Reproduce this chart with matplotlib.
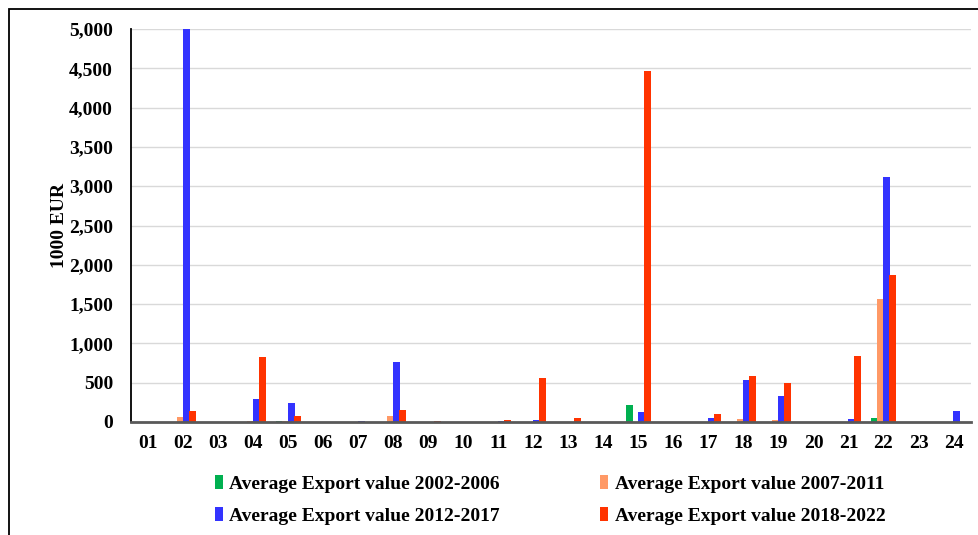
import matplotlib.pyplot as plt
import matplotlib.patches as mpatches
import numpy as np
from matplotlib.ticker import FuncFormatter

plt.rcParams['font.family'] = ['Liberation Serif', 'DejaVu Serif']
plt.rcParams['font.weight'] = 'bold'

codes = ['01', '02', '03', '04', '05', '06', '07', '08', '09', '10', '11', '12',
         '13', '14', '15', '16', '17', '18', '19', '20', '21', '22', '23', '24']

exp_2002_2006 = [0, 0, 5, 0, 8, 0, 0, 0, 0, 5, 0, 0,
                 0, 0, 212, 5, 5, 0, 0, 0, 0, 50, 0, 0]
exp_2007_2011 = [0, 62, 5, 8, 18, 0, 5, 72, 0, 0, 0, 0,
                 5, 0, 0, 5, 0, 42, 20, 0, 5, 1565, 0, 0]
exp_2012_2017 = [0, 5000, 5, 290, 236, 0, 8, 768, 5, 0, 10, 25,
                 0, 0, 121, 0, 54, 529, 333, 5, 42, 3120, 5, 138]
exp_2018_2022 = [0, 134, 0, 827, 72, 0, 0, 154, 18, 0, 28, 554,
                 50, 0, 4470, 0, 108, 580, 494, 5, 836, 1870, 0, 0]

labels = ['Average Export value 2002-2006', 'Average Export value 2007-2011',
          'Average Export value 2012-2017', 'Average Export value 2018-2022']
colors = ['#00B050', '#FF9966', '#3333FF', '#FF3300']

fig = plt.figure(figsize=(9.79, 5.35), dpi=100)
ax = fig.add_axes([131/979, 1 - 422/535, 840/979, 393/535])

x = np.arange(len(codes))
w = 0.175
offsets = [-9/35, -3/35, 3/35, 9/35]
series = [exp_2002_2006, exp_2007_2011, exp_2012_2017, exp_2018_2022]
bars = []
for vals, off, c, lab in zip(series, offsets, colors, labels):
    b = ax.bar(x + off, vals, width=w, color=c, label=lab, zorder=3)
    bars.append(b)

ax.set_xlim(-0.5, len(codes) - 0.5)
ax.set_ylim(0, 5000)
ax.set_yticks(np.arange(0, 5001, 500))
ax.yaxis.set_major_formatter(FuncFormatter(lambda v, p: f'{int(v):,}'))
ax.set_xticks(x)
ax.set_xticklabels(codes)
ax.tick_params(axis='both', length=0, labelsize=14)
ax.tick_params(axis='y', pad=13)
ax.tick_params(axis='x', pad=9)
ax.grid(axis='y', color='#D9D9D9', lw=1, zorder=0)

for s in ['top', 'right']:
    ax.spines[s].set_visible(False)
ax.spines['left'].set_color('black')
ax.spines['left'].set_linewidth(1.3)
ax.spines['bottom'].set_color('#595959')
ax.spines['bottom'].set_linewidth(2)
ax.spines['bottom'].set_zorder(4)

ax.set_ylabel('1000 EUR', fontsize=14, fontweight='bold', labelpad=1)

# legend: column-wise fill gives rows green/orange, blue/red
order = [0, 2, 1, 3]
fig.legend([bars[i] for i in order], [labels[i] for i in order],
           ncol=2, loc='center', bbox_to_anchor=(0.562, 1 - 500/535),
           frameon=False, fontsize=14, handlelength=0.4, handleheight=0.7,
           handletextpad=0.35, columnspacing=5.15, labelspacing=0.75)

# outer frame
frame = mpatches.Rectangle((9/979, -0.1), 1.2, 1 - 9/535 + 0.1,
                           transform=fig.transFigure, fill=False,
                           edgecolor='black', lw=1.3)
fig.patches.append(frame)

fig.savefig('out.png', dpi=100)
